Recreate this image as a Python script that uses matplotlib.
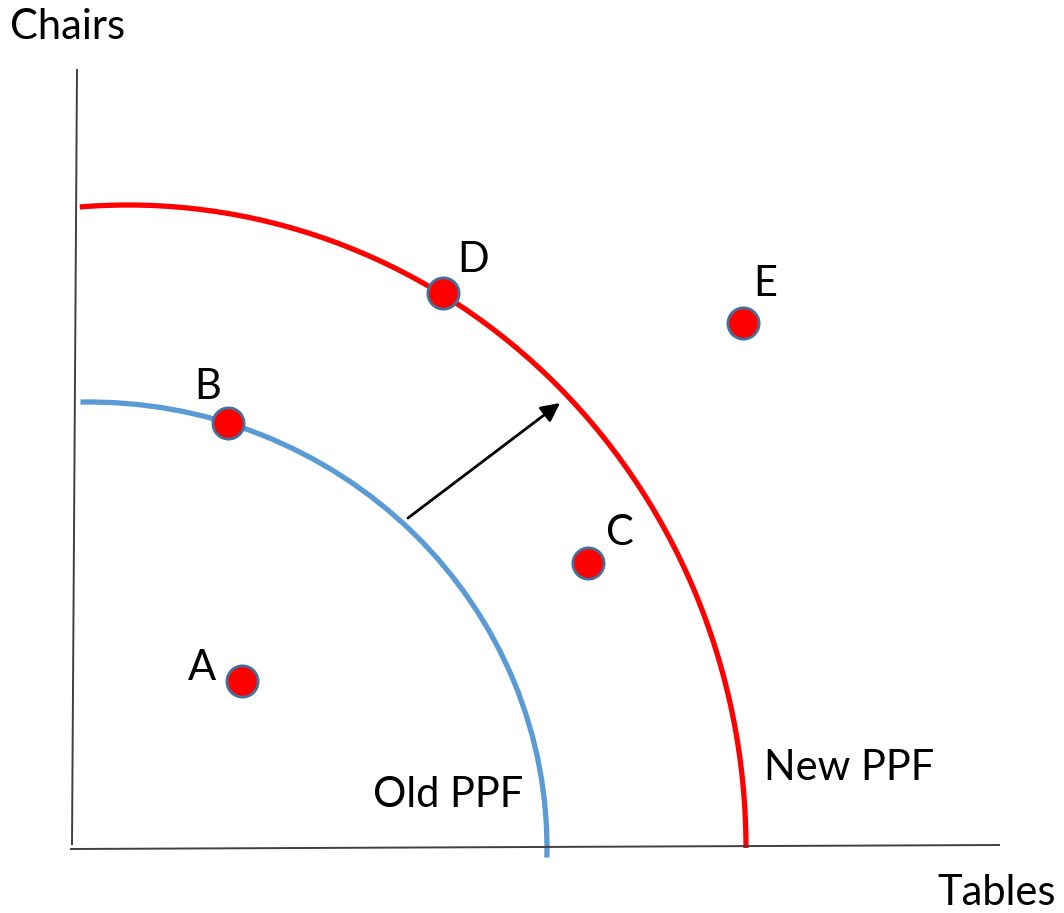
"""PPF shift diagram: old vs new production possibility frontier."""

import matplotlib
matplotlib.use("Agg")
import matplotlib.pyplot as plt
from matplotlib.patches import Arc

# data in chart units (origin at the axes corner)
point_labels = ["A", "B", "C", "D", "E"]
point_x = [170, 156, 516, 371, 671]
point_y = [167, 425, 285, 555, 525]

# frontiers: centre, half-width, half-height, start/end angles
old_ppf = dict(cx=17, rx=458, ry=446, t1=-1.2, t2=91.1)
new_ppf = dict(cx=56, rx=618, ry=643, t1=0.0, t2=94.3)

label_pos = {"A": (130, 180), "B": (136, 461), "C": (548, 315),
             "D": (401, 588), "E": (693, 564)}

shift_start = (336, 330)
shift_end = (488, 445)

FONT = "Lato"
FS = 30

fig = plt.figure(figsize=(10.64, 9.13), dpi=100)
ax = fig.add_axes([0, 0, 1, 1])
ax.set_xlim(-72, 992)
ax.set_ylim(-65, 848)
ax.axis("off")

# axes lines (slightly tilted, as drawn by hand)
ax.plot([5, 0], [779, 3], color="#404040", lw=1.4, solid_capstyle="butt")
ax.plot([-2, 928], [-1, 3], color="#404040", lw=1.4, solid_capstyle="butt")

for ppf, color in [(old_ppf, "#5B9BD5"), (new_ppf, "#FF0000")]:
    arc = Arc((ppf["cx"], 0), 2 * ppf["rx"], 2 * ppf["ry"],
              theta1=ppf["t1"], theta2=ppf["t2"], color=color, lw=3.8)
    ax.add_patch(arc)

ax.annotate("", xy=shift_end, xytext=shift_start,
            arrowprops=dict(arrowstyle="-|>", color="black", lw=2,
                            mutation_scale=28, shrinkA=0, shrinkB=0))

ax.plot(point_x, point_y, "o", ls="none", ms=22.5, mfc="#FF0000",
        mec="#41719C", mew=2, zorder=5)

for name in point_labels:
    lx, ly = label_pos[name]
    ax.text(lx, ly, name, fontsize=FS, family=FONT, ha="center", va="center")

ax.text(376, 53, "Old PPF", fontsize=FS, family=FONT, ha="center", va="center")
ax.text(777, 80, "New PPF", fontsize=FS, family=FONT, ha="center", va="center")
ax.text(-4, 821, "Chairs", fontsize=FS, family=FONT, ha="center", va="center")
ax.text(925, -45, "Tables", fontsize=FS, family=FONT, ha="center", va="center")

plt.savefig("out.png", dpi=100)
plt.close()
